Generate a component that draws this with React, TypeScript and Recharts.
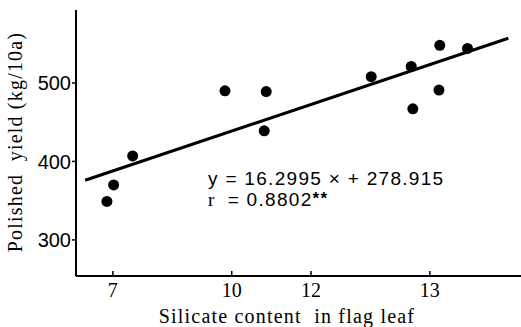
import { ScatterChart, Scatter, XAxis, YAxis, ReferenceLine } from "recharts";

// silicate content (as plotted on the axis scale) and polished yield
const silicate = [6.85, 7.02, 7.5, 9.83, 10.87, 10.82, 13.52, 14.53, 14.57, 15.25, 15.23, 15.95];
const yieldKg = [349, 370, 407, 490, 489, 439, 508, 521, 467, 548, 491, 544];

// tick positions on the axis and the labels printed under them
const xTicks = [7, 10, 12, 15];
const xTickLabels = ["7", "10", "12", "13"];
const yTicks = [300, 400, 500];

// regression line end points as drawn
const fitX = [6.3, 16.98];
const fitY = [376, 557];

const points = silicate.map((x, i) => ({ x, y: yieldKg[i] }));

const serif = "'Liberation Serif', 'DejaVu Serif', serif";
const sans = "'Liberation Sans', Arial, sans-serif";

const XTick = (props: any) => {
  const { x, y, payload } = props;
  const idx = xTicks.indexOf(payload.value);
  return (
    <g>
      <line x1={x} x2={x} y1={y - 5} y2={y} stroke="#000" strokeWidth={1.5} />
      <text x={x} y={y + 21} textAnchor="middle" fontFamily={serif} fontSize={20} fill="#000">
        {idx >= 0 ? xTickLabels[idx] : payload.value}
      </text>
    </g>
  );
};

const Dot = (props: any) => <circle cx={props.cx} cy={props.cy} r={5.5} fill="#000" />;

export default function App() {
  return (
    <div style={{ position: "absolute", left: 0, top: 0, background: "#fff" }}>
      <ScatterChart width={521} height={327} margin={{ top: 10, right: 0, bottom: 0, left: 0 }}>
        <XAxis
          type="number"
          dataKey="x"
          domain={[6.07, 17.3]}
          ticks={xTicks}
          tick={<XTick />}
          tickSize={0}
          tickMargin={0}
          height={51}
          axisLine={{ stroke: "#000", strokeWidth: 2 }}
          allowDataOverflow
        />
        <YAxis
          type="number"
          dataKey="y"
          domain={[254, 593]}
          ticks={yTicks}
          width={76}
          tickSize={4}
          tickMargin={1}
          tick={{ fontFamily: sans, fontSize: 20, fill: "#000" }}
          tickLine={{ stroke: "#000", strokeWidth: 1.5 }}
          axisLine={{ stroke: "#000", strokeWidth: 2 }}
          allowDataOverflow
        />
        <ReferenceLine
          segment={[
            { x: fitX[0], y: fitY[0] },
            { x: fitX[1], y: fitY[1] },
          ]}
          stroke="#000"
          strokeWidth={3}
        />
        <Scatter data={points} shape={<Dot />} isAnimationActive={false} />
        <text
          x={287}
          y={323}
          textAnchor="middle"
          fontFamily={serif}
          fontSize={20}
          letterSpacing={1.2}
          fill="#000"
          style={{ whiteSpace: "pre" }}
        >
          Silicate content  in flag leaf
        </text>
        <text
          x={22}
          y={142}
          transform="rotate(-90, 22, 142)"
          textAnchor="middle"
          fontFamily={serif}
          fontSize={20}
          letterSpacing={1.2}
          fill="#000"
          style={{ whiteSpace: "pre" }}
        >
          Polished  yield (kg/10a)
        </text>
        <text x={208} y={185} fontFamily={sans} fontSize={19} letterSpacing={1.3} fill="#000">
          y = 16.2995 × + 278.915
        </text>
        <text x={208} y={206} fontFamily={sans} fontSize={19} letterSpacing={1.3} fill="#000">
          <tspan fontFamily={serif}>r</tspan>
          <tspan dx={12}>= 0.8802</tspan>
          <tspan dy={-2} fontWeight="bold" fontSize={17}>**</tspan>
        </text>
      </ScatterChart>
    </div>
  );
}
